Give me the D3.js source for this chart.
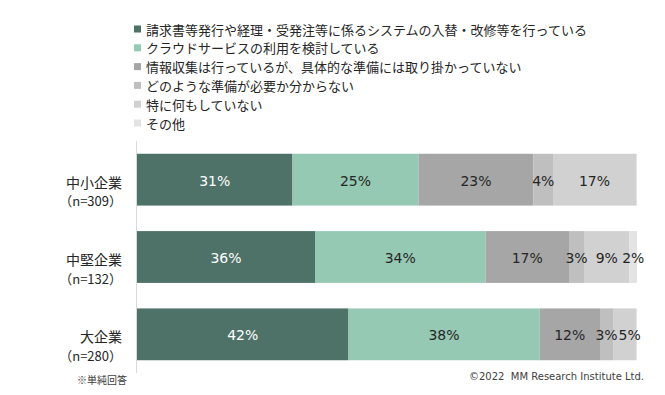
<!DOCTYPE html>
<html>
<head>
<meta charset="utf-8">
<script src="https://cdn.jsdelivr.net/npm/d3@7"></script>
<style>
  body { margin: 0; background: #fff; }
  svg { display: block; }
</style>
</head>
<body>
<div id="chart"></div>
<script>
"use strict"

// categories (rows) and their sample sizes
const companies = ["中小企業", "中堅企業", "大企業"];
const sampleSizes = ["（n=309）", "（n=132）", "（n=280）"];

// answer options (stack order)
const answers = [
  "請求書等発行や経理・受発注等に係るシステムの入替・改修等を行っている",
  "クラウドサービスの利用を検討している",
  "情報収集は行っているが、具体的な準備には取り掛かっていない",
  "どのような準備が必要か分からない",
  "特に何もしていない",
  "その他"
];

// percentages per answer, one value per company
const systemUpdate = [31.1, 35.6, 42.3];
const cloudService = [25.2, 34.1, 38.2];
const infoGathering = [23.0, 16.7, 12.1];
const dontKnow = [3.9, 3.0, 2.6];
const nothing = [16.6, 9.1, 4.6];
const other = [0.2, 1.5, 0.2];

const seriesValues = [systemUpdate, cloudService, infoGathering, dontKnow, nothing, other];

const colors = ["#4e7268", "#96c9b3", "#a6a6a6", "#bfbfbf", "#d1d1d1", "#e3e3e3"];

const width = 665, height = 395;
const cjk = "'Noto Sans CJK JP', sans-serif";
const latin = "'DejaVu Sans', 'Noto Sans CJK JP', sans-serif";

let svg = d3.select("#chart").append("svg")
  .attr("width", width)
  .attr("height", height);

// stacked rows
let rows = companies.map((c, i) => {
  let row = { company: c };
  answers.forEach((a, j) => row[a] = seriesValues[j][i]);
  return row;
});

let stack = d3.stack().keys(answers)(rows);

let x = d3.scaleLinear()
  .domain([0, 100])
  .range([137, 637]);

let y = d3.scaleBand()
  .domain(companies)
  .range([141, 373])
  .paddingInner(0.33)
  .paddingOuter(0.165);

// bars
let layers = svg.append("g").selectAll("g")
  .data(stack)
  .join("g")
  .attr("fill", (d, i) => colors[i]);

layers.selectAll("rect")
  .data(d => d)
  .join("rect")
  .attr("x", d => x(d[0]))
  .attr("y", d => y(d.data.company))
  .attr("width", d => x(d[1]) - x(d[0]))
  .attr("height", y.bandwidth());

// value labels
let labelGroup = svg.append("g");
stack.forEach((layer, i) => {
  labelGroup.selectAll(null)
    .data(layer.filter(d => d[1] - d[0] >= 1))
    .join("text")
    .attr("class", "value")
    .attr("x", d => (x(d[0]) + x(d[1])) / 2)
    .attr("y", d => y(d.data.company) + y.bandwidth() / 2 + 1)
    .attr("text-anchor", "middle")
    .attr("dominant-baseline", "central")
    .style("font-family", latin)
    .style("font-size", "14px")
    .style("fill", i === 0 ? "#ffffff" : "#262626")
    .text(d => Math.round(d[1] - d[0]) + "%");
});

// push labels right when they would collide with the one before
companies.forEach(c => {
  let prevRight = -Infinity;
  labelGroup.selectAll("text.value")
    .filter(d => d.data.company === c)
    .each(function() {
      let t = d3.select(this);
      let w = this.getComputedTextLength();
      let cx = +t.attr("x");
      if (cx - w / 2 < prevRight + 1) {
        cx = prevRight + 1 + w / 2;
        t.attr("x", cx);
      }
      prevRight = cx + w / 2;
    });
});

// vertical axis line
svg.append("line")
  .attr("x1", 136.5)
  .attr("x2", 136.5)
  .attr("y1", 141)
  .attr("y2", 373)
  .style("stroke", "#d9d9d9")
  .style("stroke-width", 1);

// category labels
let cats = svg.append("g").selectAll("g")
  .data(companies)
  .join("g");

cats.append("text")
  .attr("x", 122)
  .attr("y", d => y(d) + y.bandwidth() / 2 + 2)
  .attr("text-anchor", "end")
  .attr("dominant-baseline", "central")
  .style("font-family", cjk)
  .style("font-size", "14px")
  .style("fill", "#262626")
  .text(d => d);

cats.append("text")
  .attr("x", 122)
  .attr("y", d => y(d) + y.bandwidth() / 2 + 21)
  .attr("text-anchor", "end")
  .attr("dominant-baseline", "central")
  .style("font-family", cjk)
  .style("font-size", "13px")
  .style("fill", "#262626")
  .text((d, i) => sampleSizes[i]);

// legend
let legend = svg.append("g").selectAll("g")
  .data(answers)
  .join("g")
  .attr("transform", (d, i) => "translate(134," + (29 + i * 18.8) + ")");

legend.append("rect")
  .attr("x", 0)
  .attr("y", -3.5)
  .attr("width", 7)
  .attr("height", 7)
  .attr("fill", (d, i) => colors[i]);

legend.append("text")
  .attr("x", 12)
  .attr("y", 0)
  .attr("dominant-baseline", "central")
  .style("font-family", cjk)
  .style("font-size", "13px")
  .style("fill", "#262626")
  .text(d => d);

// footnotes
svg.append("text")
  .attr("x", 77)
  .attr("y", 379)
  .attr("dominant-baseline", "central")
  .style("font-family", cjk)
  .style("font-size", "10px")
  .style("fill", "#404040")
  .text("※単純回答");

svg.append("text")
  .attr("x", 644)
  .attr("y", 376)
  .attr("text-anchor", "end")
  .attr("dominant-baseline", "central")
  .style("font-family", latin)
  .style("font-size", "10px")
  .style("white-space", "pre")
  .style("fill", "#404040")
  .text("©2022  MM Research Institute Ltd.");
</script>
</body>
</html>
